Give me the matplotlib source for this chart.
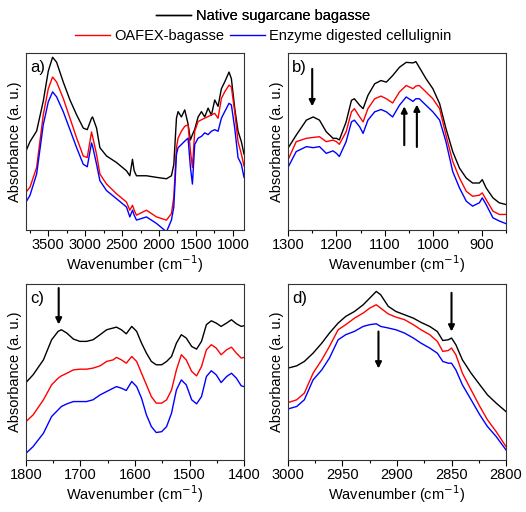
import numpy as np
import matplotlib
matplotlib.use('Agg')
import matplotlib.pyplot as plt
from matplotlib.ticker import MultipleLocator

plt.rcParams['font.family'] = ['Liberation Sans', 'DejaVu Sans']

# ---- data (absorbance in arbitrary units) ----
# panel a: full spectrum
wn_a = [3800, 3746, 3656, 3566, 3498, 3440, 3386, 3296, 3205, 3115, 3025, 2971,
        2913, 2899, 2845, 2800, 2710, 2575, 2440, 2395, 2359, 2336, 2305, 2170,
        2034, 1899, 1832, 1800, 1764, 1742, 1697, 1652, 1607, 1575, 1548, 1517,
        1471, 1426, 1381, 1336, 1291, 1246, 1201, 1156, 1111, 1053, 1021, 976,
        931, 886, 850]
native_a = [0.447, 0.50, 0.56, 0.73, 0.90, 0.978, 0.95, 0.838, 0.736, 0.652, 0.577, 0.568,
            0.633, 0.64, 0.577, 0.466, 0.419, 0.382, 0.335, 0.307, 0.40, 0.335, 0.307, 0.307,
            0.298, 0.29, 0.307, 0.37, 0.633, 0.67, 0.64, 0.68, 0.60, 0.51, 0.54, 0.57,
            0.64, 0.67, 0.64, 0.69, 0.65, 0.736, 0.70, 0.80, 0.838, 0.894, 0.857, 0.69,
            0.56, 0.50, 0.43]
oafex_a = [0.214, 0.242, 0.354, 0.652, 0.80, 0.866, 0.838, 0.745, 0.633, 0.521, 0.419, 0.41,
           0.555, 0.53, 0.428, 0.317, 0.26, 0.205, 0.158, 0.112, 0.14, 0.112, 0.084, 0.112,
           0.074, 0.056, 0.093, 0.186, 0.466, 0.52, 0.559, 0.587, 0.596, 0.447, 0.354, 0.559,
           0.614, 0.624, 0.633, 0.642, 0.652, 0.66, 0.633, 0.745, 0.782, 0.82, 0.81, 0.67,
           0.50, 0.43, 0.363]
enzyme_a = [0.158, 0.196, 0.317, 0.596, 0.726, 0.782, 0.754, 0.67, 0.568, 0.466, 0.372, 0.358,
            0.493, 0.475, 0.372, 0.279, 0.223, 0.177, 0.13, 0.074, 0.112, 0.084, 0.056, 0.074,
            0.037, -0.01, 0.056, 0.13, 0.428, 0.466, 0.484, 0.503, 0.52, 0.354, 0.26, 0.484,
            0.52, 0.53, 0.55, 0.54, 0.559, 0.568, 0.559, 0.633, 0.67, 0.717, 0.708, 0.577,
            0.41, 0.372, 0.298]

# panel b: 1300-850
wn_b = [1300, 1283, 1262, 1248, 1235, 1221, 1207, 1200, 1194, 1180, 1169, 1163,
        1152, 1145, 1135, 1121, 1108, 1097, 1084, 1070, 1056, 1042, 1036, 1029,
        1015, 1001, 987, 974, 960, 946, 932, 919, 905, 899, 891, 877, 864, 850]
native_b = [0.463, 0.537, 0.622, 0.64, 0.622, 0.556, 0.519, 0.519, 0.51, 0.612, 0.734, 0.743,
            0.706, 0.687, 0.762, 0.828, 0.846, 0.837, 0.874, 0.921, 0.949, 0.946, 0.953, 0.921,
            0.856, 0.80, 0.715, 0.575, 0.444, 0.35, 0.294, 0.266, 0.266, 0.285, 0.238, 0.182,
            0.154, 0.144]
oafex_b = [0.397, 0.50, 0.519, 0.524, 0.528, 0.50, 0.509, 0.50, 0.485, 0.556, 0.669, 0.687,
           0.64, 0.612, 0.687, 0.743, 0.758, 0.743, 0.719, 0.781, 0.818, 0.80, 0.815, 0.818,
           0.781, 0.743, 0.687, 0.537, 0.388, 0.294, 0.219, 0.191, 0.197, 0.21, 0.172, 0.107,
           0.088, 0.088]
enzyme_b = [0.354, 0.444, 0.472, 0.466, 0.472, 0.434, 0.448, 0.434, 0.416, 0.50, 0.612, 0.622,
            0.584, 0.547, 0.622, 0.669, 0.682, 0.669, 0.64, 0.706, 0.753, 0.728, 0.743, 0.743,
            0.706, 0.669, 0.622, 0.50, 0.331, 0.238, 0.163, 0.135, 0.154, 0.182, 0.144, 0.069,
            0.051, 0.036]

# panel c: 1800-1400
wn_c = [1800, 1787, 1768, 1753, 1741, 1735, 1725, 1713, 1701, 1689, 1677, 1664,
        1652, 1640, 1634, 1625, 1616, 1606, 1597, 1588, 1579, 1570, 1561, 1551,
        1542, 1533, 1524, 1515, 1506, 1496, 1487, 1478, 1469, 1460, 1451, 1442,
        1432, 1423, 1414, 1405, 1400]
native_c = [0.44, 0.484, 0.569, 0.683, 0.731, 0.74, 0.721, 0.687, 0.674, 0.674, 0.683, 0.712,
            0.74, 0.75, 0.755, 0.74, 0.717, 0.759, 0.731, 0.664, 0.607, 0.56, 0.541, 0.541,
            0.56, 0.588, 0.664, 0.712, 0.693, 0.645, 0.63, 0.674, 0.769, 0.791, 0.778, 0.759,
            0.778, 0.797, 0.774, 0.759, 0.763]
oafex_c = [0.218, 0.256, 0.342, 0.427, 0.465, 0.478, 0.493, 0.512, 0.516, 0.516, 0.522, 0.535,
           0.56, 0.569, 0.583, 0.569, 0.55, 0.588, 0.56, 0.493, 0.427, 0.36, 0.323, 0.323,
           0.342, 0.398, 0.512, 0.598, 0.569, 0.503, 0.478, 0.531, 0.626, 0.655, 0.636, 0.598,
           0.626, 0.641, 0.607, 0.579, 0.583]
enzyme_c = [0.038, 0.076, 0.152, 0.247, 0.285, 0.304, 0.319, 0.332, 0.332, 0.332, 0.342, 0.37,
            0.389, 0.408, 0.417, 0.408, 0.395, 0.446, 0.417, 0.351, 0.256, 0.19, 0.156, 0.161,
            0.19, 0.266, 0.398, 0.455, 0.427, 0.342, 0.319, 0.36, 0.474, 0.507, 0.484, 0.44,
            0.474, 0.493, 0.465, 0.421, 0.417]

# panel d: 3000-2800
wn_d = [3000, 2992, 2985, 2977, 2969, 2962, 2954, 2947, 2939, 2931, 2925, 2919,
        2915, 2908, 2901, 2893, 2885, 2878, 2870, 2863, 2858, 2853, 2850, 2846,
        2840, 2832, 2824, 2817, 2809, 2800]
native_d = [0.522, 0.535, 0.56, 0.607, 0.664, 0.721, 0.778, 0.816, 0.844, 0.882, 0.92, 0.958,
            0.939, 0.873, 0.844, 0.825, 0.806, 0.782, 0.759, 0.73, 0.679, 0.683, 0.693, 0.655,
            0.569, 0.493, 0.427, 0.37, 0.323, 0.275]
oafex_d = [0.326, 0.342, 0.38, 0.493, 0.569, 0.645, 0.74, 0.769, 0.806, 0.835, 0.863, 0.882,
           0.863, 0.83, 0.812, 0.797, 0.769, 0.74, 0.712, 0.674, 0.617, 0.622, 0.636, 0.598,
           0.493, 0.398, 0.304, 0.228, 0.161, 0.076]
enzyme_d = [0.29, 0.304, 0.342, 0.455, 0.512, 0.579, 0.683, 0.712, 0.731, 0.759, 0.769, 0.774,
            0.759, 0.75, 0.74, 0.721, 0.693, 0.664, 0.636, 0.607, 0.56, 0.55, 0.55, 0.512,
            0.427, 0.342, 0.256, 0.19, 0.133, 0.057]

labels = ['Native sugarcane bagasse', 'OAFEX-bagasse', 'Enzyme digested cellulignin']
colors = ['black', 'red', 'blue']

# arrows: (x, y_tail, y_head)
arrows_b = [(1250, 0.912, 0.70), (1060, 0.48, 0.70), (1034, 0.47, 0.71)]
arrows_c = [(1740, 0.977, 0.77)]
arrows_d = [(2917, 0.73, 0.52), (2850, 0.95, 0.73)]

panels = [
    ('a)', wn_a, [native_a, oafex_a, enzyme_a], (3800, 850), 500, 250, [], [0.0494, 0.5508]),
    ('b)', wn_b, [native_b, oafex_b, enzyme_b], (1300, 850), 100, 50, arrows_b, [0.5475, 0.5508]),
    ('c)', wn_c, [native_c, oafex_c, enzyme_c], (1800, 1400), 100, 50, arrows_c, [0.0494, 0.1016]),
    ('d)', wn_d, [native_d, oafex_d, enzyme_d], (3000, 2800), 50, 25, arrows_d, [0.5475, 0.1016]),
]

fig = plt.figure(figsize=(5.26, 5.12), dpi=100)

lines = []
for tag, wn, ys, xl, major, minor, arrs, (x0, y0) in panels:
    ax = fig.add_axes([x0, y0, 0.4145, 0.345 if y0 > 0.5 else 0.3437])
    for y, c, lab in zip(ys, colors, labels):
        ln, = ax.plot(wn, y, color=c, lw=1.0, label=lab)
        if tag == 'a)':
            lines.append(ln)
    ax.set_xlim(*xl)
    ax.set_ylim(0, 1)
    ax.xaxis.set_major_locator(MultipleLocator(major))
    ax.xaxis.set_minor_locator(MultipleLocator(minor))
    ax.set_yticks([])
    ax.tick_params(axis='x', which='major', direction='out', length=4, width=0.8,
                   labelsize=10.5, pad=2)
    ax.tick_params(axis='x', which='minor', direction='out', length=2.5, width=0.8)
    for s in ax.spines.values():
        s.set_linewidth(0.8)
        s.set_color('#333333')
    ax.set_xlabel('Wavenumber (cm$^{-1}$)', fontsize=10.5, labelpad=1)
    ax.set_ylabel('Absorbance (a. u.)', fontsize=10.5, labelpad=3)
    ax.text(0.02, 0.96, tag, transform=ax.transAxes, va='top', ha='left', fontsize=12)
    for xa, yt, yh in arrs:
        ax.annotate('', xy=(xa, yh), xytext=(xa, yt),
                    arrowprops=dict(arrowstyle='-|>', color='black', lw=1.5,
                                    mutation_scale=9, shrinkA=0, shrinkB=0))

# legend on two rows
leg1 = fig.legend([lines[0]], [labels[0]], loc='center', bbox_to_anchor=(0.5, 1 - 16 / 512),
                  frameon=False, fontsize=10.5, handlelength=2.4, handletextpad=0.3,
                  borderpad=0, borderaxespad=0)
fig.add_artist(leg1)
fig.legend(lines[1:], labels[1:], loc='center', bbox_to_anchor=(0.5, 1 - 36 / 512),
           ncol=2, frameon=False, fontsize=10.5, handlelength=2.4, handletextpad=0.3,
           columnspacing=0.4, borderpad=0, borderaxespad=0)

fig.savefig('out.png', dpi=100)
